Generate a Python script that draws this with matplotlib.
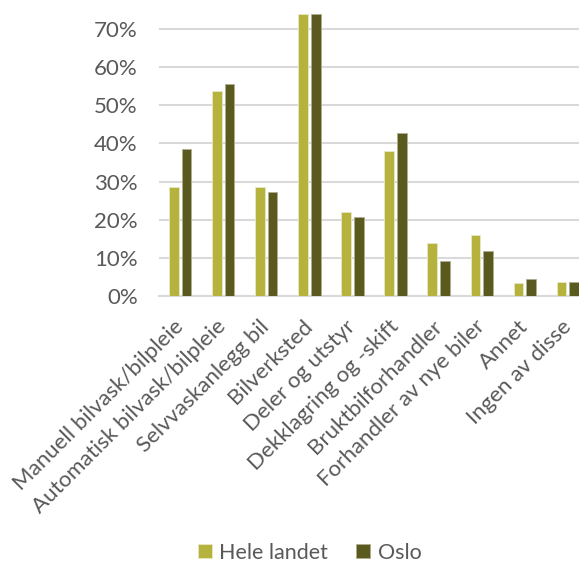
import numpy as np
import matplotlib.pyplot as plt
from matplotlib.ticker import PercentFormatter

categories = ['Manuell bilvask/bilpleie', 'Automatisk bilvask/bilpleie',
              'Selvvaskanlegg bil', 'Bilverksted', 'Deler og utstyr',
              'Dekklagring og -skift', 'Bruktbilforhandler',
              'Forhandler av nye biler', 'Annet', 'Ingen av disse']
hele_landet = [28.6, 53.9, 28.6, 74.1, 22.1, 38.0, 13.8, 15.9, 3.3, 3.7]
oslo = [38.5, 55.6, 27.3, 73.9, 20.6, 42.8, 9.2, 11.8, 4.4, 3.5]
series_names = ['Hele landet', 'Oslo']

plt.rcParams['font.family'] = ['Lato', 'DejaVu Sans']
text_col = '#595959'
grid_col = '#D9D9D9'
colors = ['#B5B33D', '#5B5A1E']

fig = plt.figure(figsize=(5.79, 5.68), dpi=100)
ax = fig.add_axes([158.5 / 579, 272.3 / 568, 431 / 579, 295.7 / 568])

x = np.arange(len(categories))
w = 0.225
off = 0.148
ax.bar(x - off, hele_landet, w, color=colors[0], edgecolor='#E8E8C8',
       linewidth=0.6, label=series_names[0], zorder=3)
ax.bar(x + off, oslo, w, color=colors[1], edgecolor='#B0AE90',
       linewidth=0.6, label=series_names[1], zorder=3)

ax.set_xlim(-0.5, len(categories) - 0.5)
ax.set_ylim(0, 77.7)
ax.set_yticks(np.arange(0, 71, 10))
ax.yaxis.set_major_formatter(PercentFormatter(decimals=0))
ax.grid(axis='y', color=grid_col, linewidth=1.5, zorder=0)
for s in ['top', 'right', 'left']:
    ax.spines[s].set_visible(False)
ax.spines['bottom'].set_color(grid_col)
ax.spines['bottom'].set_linewidth(1.5)
ax.tick_params(axis='both', length=0, colors=text_col, labelsize=16)
ax.tick_params(axis='y', pad=15)

ax.set_xticks(x)
ax.set_xticklabels(categories, rotation=45, ha='right', va='center',
                   rotation_mode='anchor', fontsize=16, color=text_col)
ax.tick_params(axis='x', pad=20)

fig.legend(loc='lower center', bbox_to_anchor=(0.535, -0.025), ncol=2,
           frameon=False, fontsize=15.5, labelcolor=text_col,
           handlelength=0.65, handleheight=0.65, handletextpad=0.35,
           columnspacing=1.3)

fig.savefig('out.png', dpi=100)
